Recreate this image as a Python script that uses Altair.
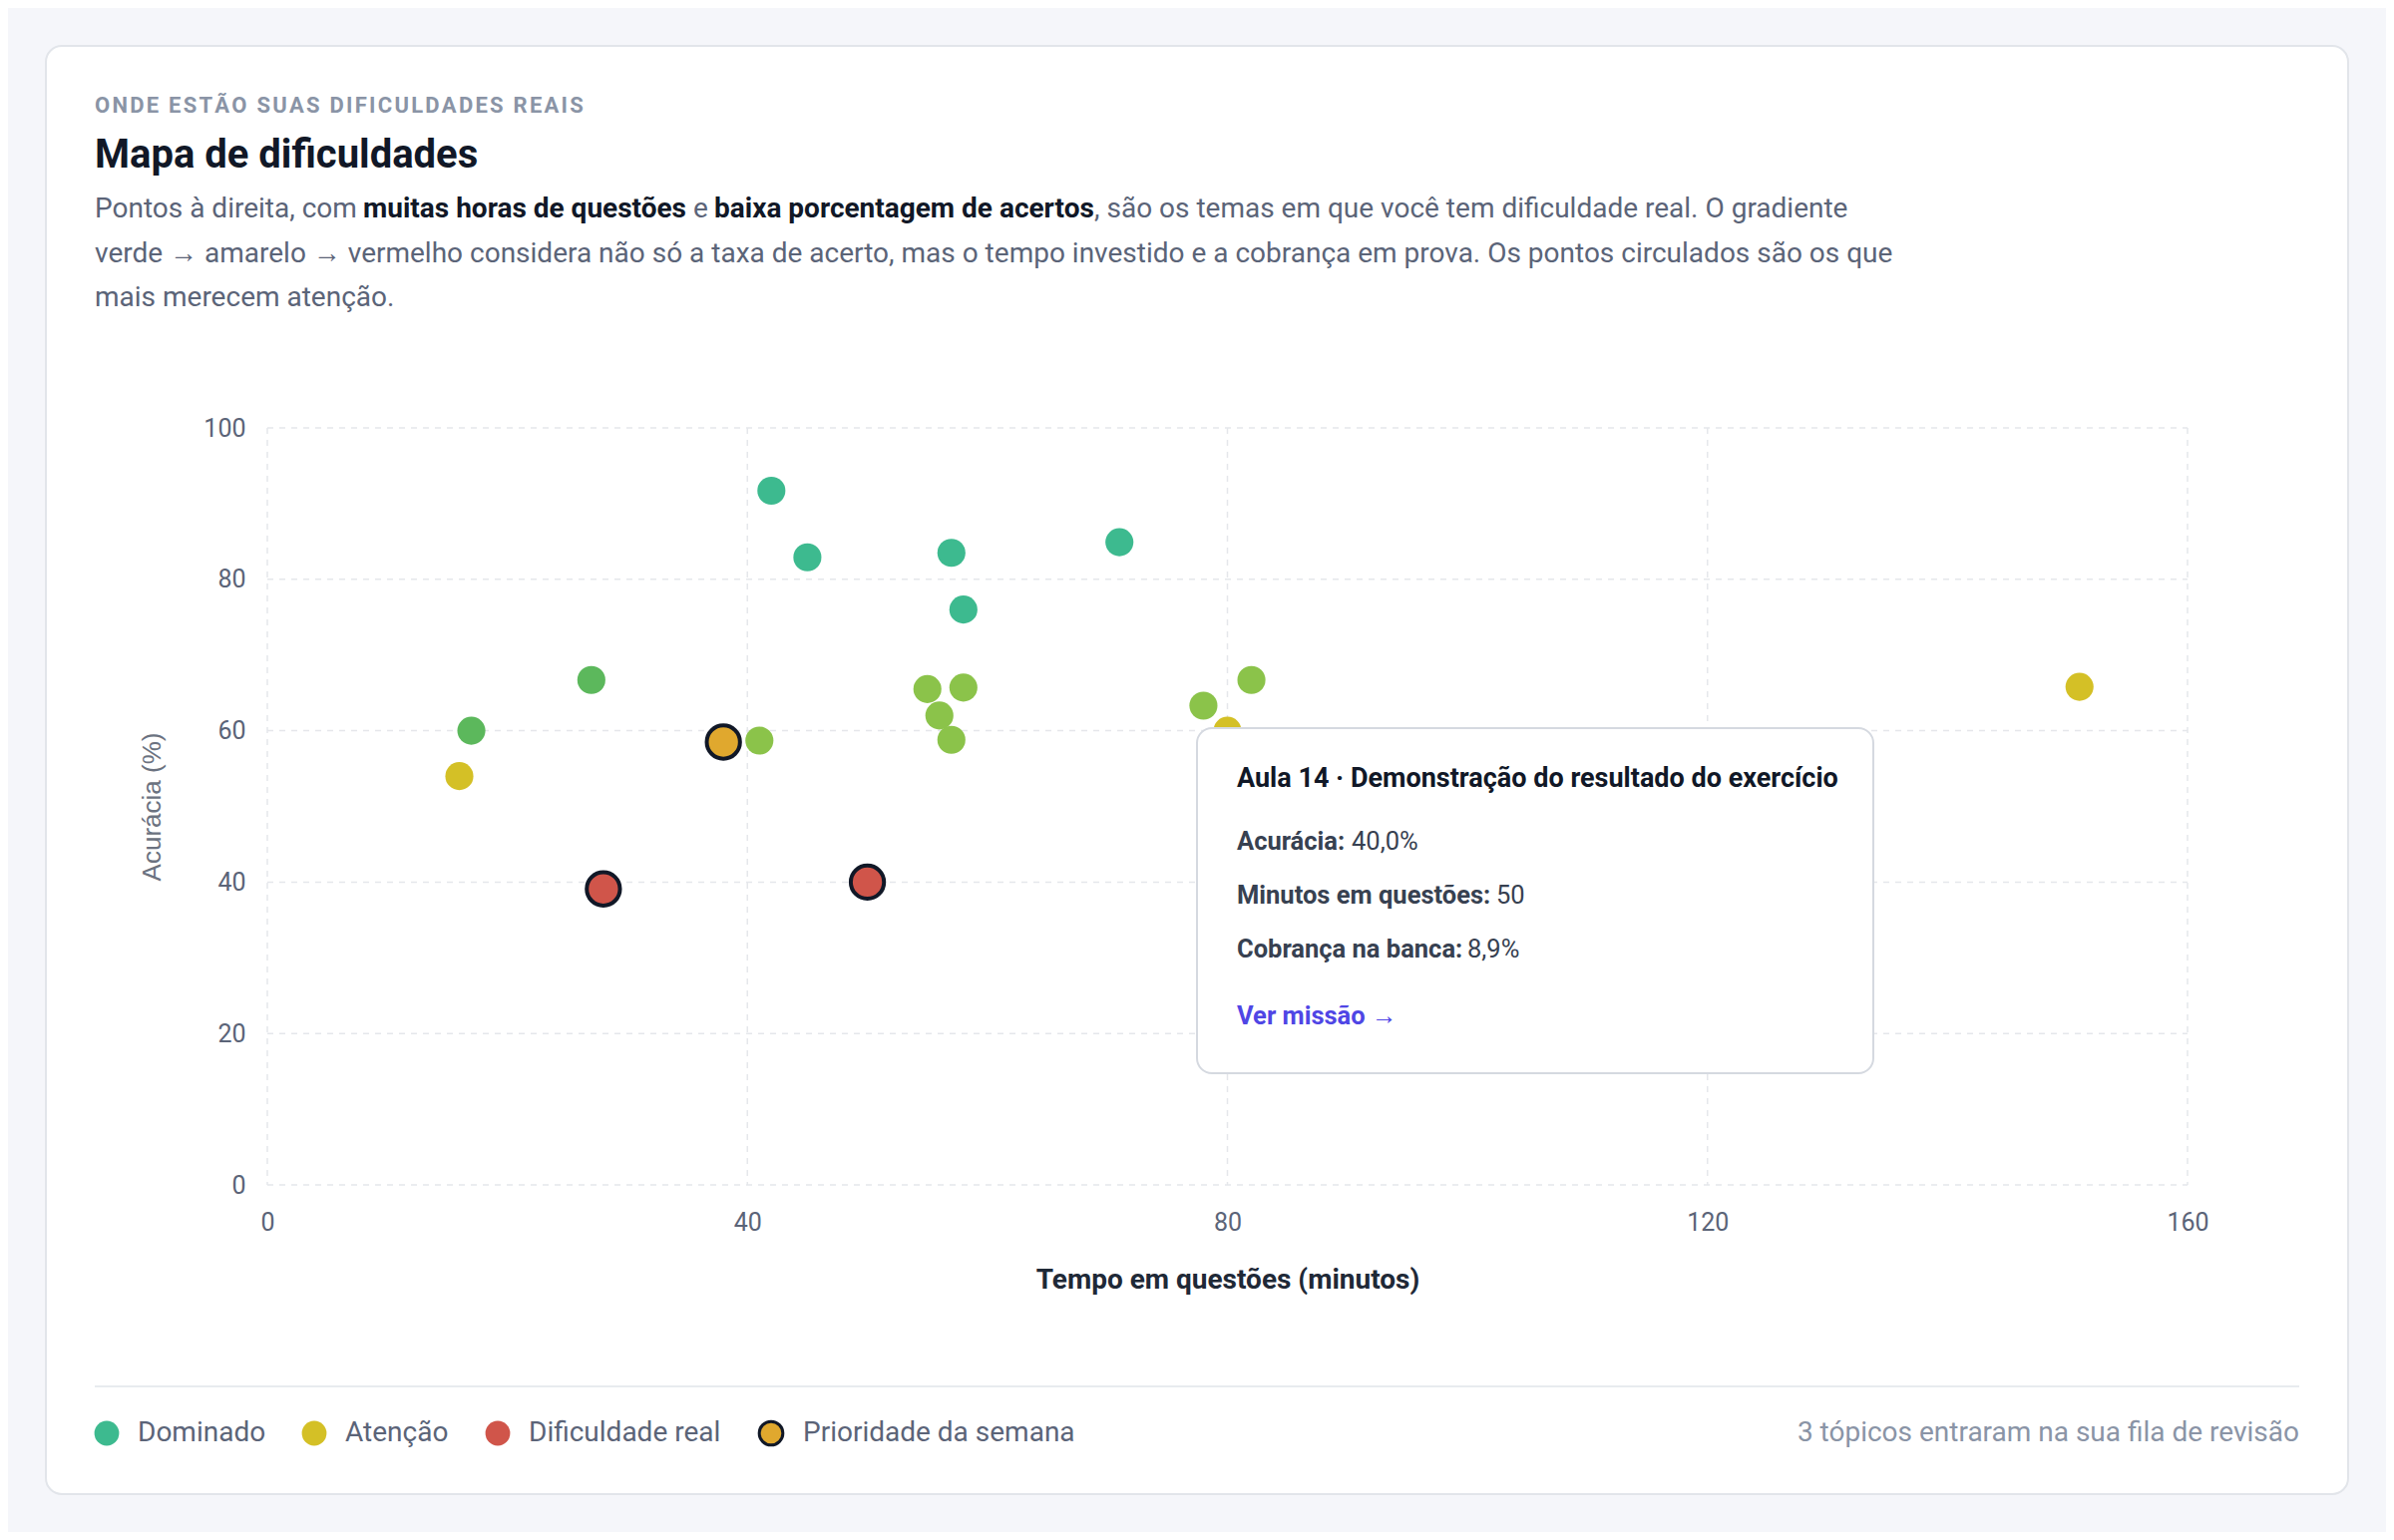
import pandas as pd
import altair as alt

# DADOS
# -----
minutos = [42, 45, 57, 58, 71, 27, 17, 16, 38, 41, 55, 58, 56, 57, 78, 82, 80, 151, 28, 50]
acuracia = [91.7, 82.9, 83.5, 76.0, 84.9, 66.7, 60.0, 54.0, 58.5, 58.7,
            65.5, 65.7, 62.0, 58.8, 63.3, 66.7, 60.0, 65.8, 39.1, 40.0]
nivel = ['Dominado', 'Dominado', 'Dominado', 'Dominado', 'Dominado', 'Bom', 'Bom',
         'Atenção', 'Prioridade da semana', 'Regular', 'Regular', 'Regular', 'Regular',
         'Regular', 'Regular', 'Regular', 'Atenção', 'Atenção', 'Dificuldade real',
         'Dificuldade real']
circulado = [False] * 8 + [True] + [False] * 9 + [True, True]

niveis = ['Dominado', 'Bom', 'Regular', 'Atenção', 'Prioridade da semana', 'Dificuldade real']
cores = ['#3dba8f', '#5cb85c', '#8bc34a', '#d4c026', '#e0a82e', '#d0554a']

ticks_x = [0, 40, 80, 120, 160]
ticks_y = [0, 20, 40, 60, 80, 100]

legenda = ['Dominado', 'Atenção', 'Dificuldade real', 'Prioridade da semana']

df = pd.DataFrame({'minutos': minutos, 'acuracia': acuracia, 'nivel': nivel, 'circulado': circulado})
grid_x = pd.DataFrame({'v': ticks_x})
grid_y = pd.DataFrame({'v': ticks_y})
one = pd.DataFrame({'k': [0]})

W, H = 1925, 759
TXT = '#5b6478'
ESCURO = '#111827'

escala_x = alt.Scale(domain=[0, 160], nice=False)
escala_y = alt.Scale(domain=[0, 100], nice=False)
escala_cor = alt.Scale(domain=niveis, range=cores)


def texto(txt, x, y, size, color, weight='normal', align='left', font='Roboto'):
    return alt.Chart(one).mark_text(
        text=txt, align=align, baseline='middle', fontSize=size,
        font=font, fontWeight=weight, color=color
    ).encode(x=alt.value(x), y=alt.value(y))


# cartão branco
cartao = alt.Chart(one).mark_rect(
    fill='white', stroke='#e2e5ea', strokeWidth=2, cornerRadius=16
).encode(x=alt.value(-222), x2=alt.value(2086), y=alt.value(-383), y2=alt.value(1069))

# grades tracejadas
linhas_x = alt.Chart(grid_x).mark_rule(color='#e5e7eb', strokeWidth=1.5, strokeDash=[6, 6]).encode(
    x=alt.X('v:Q', scale=escala_x), y=alt.value(0), y2=alt.value(H))
linhas_y = alt.Chart(grid_y).mark_rule(color='#e5e7eb', strokeWidth=1.5, strokeDash=[6, 6]).encode(
    y=alt.Y('v:Q', scale=escala_y), x=alt.value(0), x2=alt.value(W))

pontos = alt.Chart(df).mark_circle(size=790, opacity=1).encode(
    x=alt.X('minutos:Q', scale=escala_x,
            axis=alt.Axis(values=ticks_x, grid=False, domain=False, ticks=False, zindex=1,
                          labelFlush=False, labelFont='Roboto', labelFontSize=25,
                          labelColor=TXT, labelPadding=25,
                          title='Tempo em questões (minutos)', titleFont='Roboto',
                          titleFontSize=28, titleFontWeight='bold', titleColor='#1f2937',
                          titlePadding=31)),
    y=alt.Y('acuracia:Q', scale=escala_y,
            axis=alt.Axis(values=ticks_y, grid=False, domain=False, ticks=False, zindex=1,
                          labelFlush=False, labelFont='Roboto', labelFontSize=25,
                          labelColor=TXT, labelPadding=22,
                          title='Acurácia (%)', titleFont='Liberation Sans', titleFontSize=26,
                          titleFontWeight='normal', titleColor='#6b7280', titlePadding=38)),
    color=alt.Color('nivel:N', scale=escala_cor, legend=None),
).transform_filter(alt.datum.circulado == False)

destaque = alt.Chart(df).mark_point(
    filled=True, size=1110, opacity=1, stroke=ESCURO, strokeWidth=4, strokeOpacity=1
).encode(
    x=alt.X('minutos:Q', scale=escala_x),
    y=alt.Y('acuracia:Q', scale=escala_y),
    fill=alt.Fill('nivel:N', scale=escala_cor, legend=None),
).transform_filter(alt.datum.circulado == True)

# caixa de detalhe (tooltip fixo)
caixa = alt.Chart(one).mark_rect(
    fill='white', stroke='#d5d9e0', strokeWidth=2, cornerRadius=15
).encode(x=alt.value(932), x2=alt.value(1610), y=alt.value(301), y2=alt.value(647))

camadas = [
    cartao, linhas_x, linhas_y, pontos, destaque, caixa,
    texto('Aula 14 · Demonstração do resultado do exercício', 972, 352, 27, ESCURO, 'bold'),
    texto('Acurácia:', 972, 415, 25.5, '#374151', 'bold'),
    texto('40,0%', 1087, 415, 25.5, '#374151'),
    texto('Minutos em questões:', 972, 469, 25.5, '#374151', 'bold'),
    texto('50', 1232, 469, 25.5, '#374151'),
    texto('Cobrança na banca:', 972, 523, 25.5, '#374151', 'bold'),
    texto('8,9%', 1203, 523, 25.5, '#374151'),
    texto('Ver missão →', 972, 590, 25.5, '#4f46e5', 'bold'),
    # cabeçalho
    texto('\u200a'.join('ONDE ESTÃO SUAS DIFICULDADES REAIS'), -173, -323, 22, '#8a94a6', 'bold'),
    texto('Mapa de dificuldades', -173, -273, 40, ESCURO, 'bold'),
    texto('Pontos à direita, com', -173, -219, 28, TXT),
    texto('muitas horas de questões', 96, -219, 28, ESCURO, 'bold'),
    texto('e', 427, -219, 28, TXT),
    texto('baixa porcentagem de acertos', 448, -219, 28, ESCURO, 'bold'),
    texto(', são os temas em que você tem dificuldade real. O gradiente', 829, -219, 28, TXT),
    texto('verde → amarelo → vermelho considera não só a taxa de acerto, mas o tempo investido '
          'e a cobrança em prova. Os pontos circulados são os que', -173, -174, 28, TXT),
    texto('mais merecem atenção.', -173, -130, 28, TXT),
    # rodapé
    alt.Chart(one).mark_rule(color='#e8ebef', strokeWidth=2).encode(
        x=alt.value(-173), x2=alt.value(2037), y=alt.value(961)),
]

# legenda manual
leg_x_ponto = [-161, 47, 231, 505]
leg_x_texto = [-130, 78, 262, 537]
for nome, xp, xt in zip(legenda, leg_x_ponto, leg_x_texto):
    cor = cores[niveis.index(nome)]
    if nome == 'Prioridade da semana':
        marca = alt.Chart(one).mark_point(filled=True, size=560, fill=cor, opacity=1,
                                          stroke=ESCURO, strokeWidth=3)
    else:
        marca = alt.Chart(one).mark_point(filled=True, size=615, fill=cor, opacity=1)
    camadas.append(marca.encode(x=alt.value(xp), y=alt.value(1008)))
    camadas.append(texto(nome, xt, 1008, 28, TXT))

camadas.append(texto('3 tópicos entraram na sua fila de revisão', 2037, 1008, 28, '#8a94a6', align='right'))

chart = alt.layer(*camadas).properties(
    width=W, height=H,
    autosize=alt.AutoSizeParams(type='none'),
    padding={'left': 260, 'top': 421, 'right': 199, 'bottom': 348},
    background='#f5f6fa',
).configure_view(strokeWidth=0)

chart.save('out.html', embed_options={'renderer': 'svg', 'actions': False})
